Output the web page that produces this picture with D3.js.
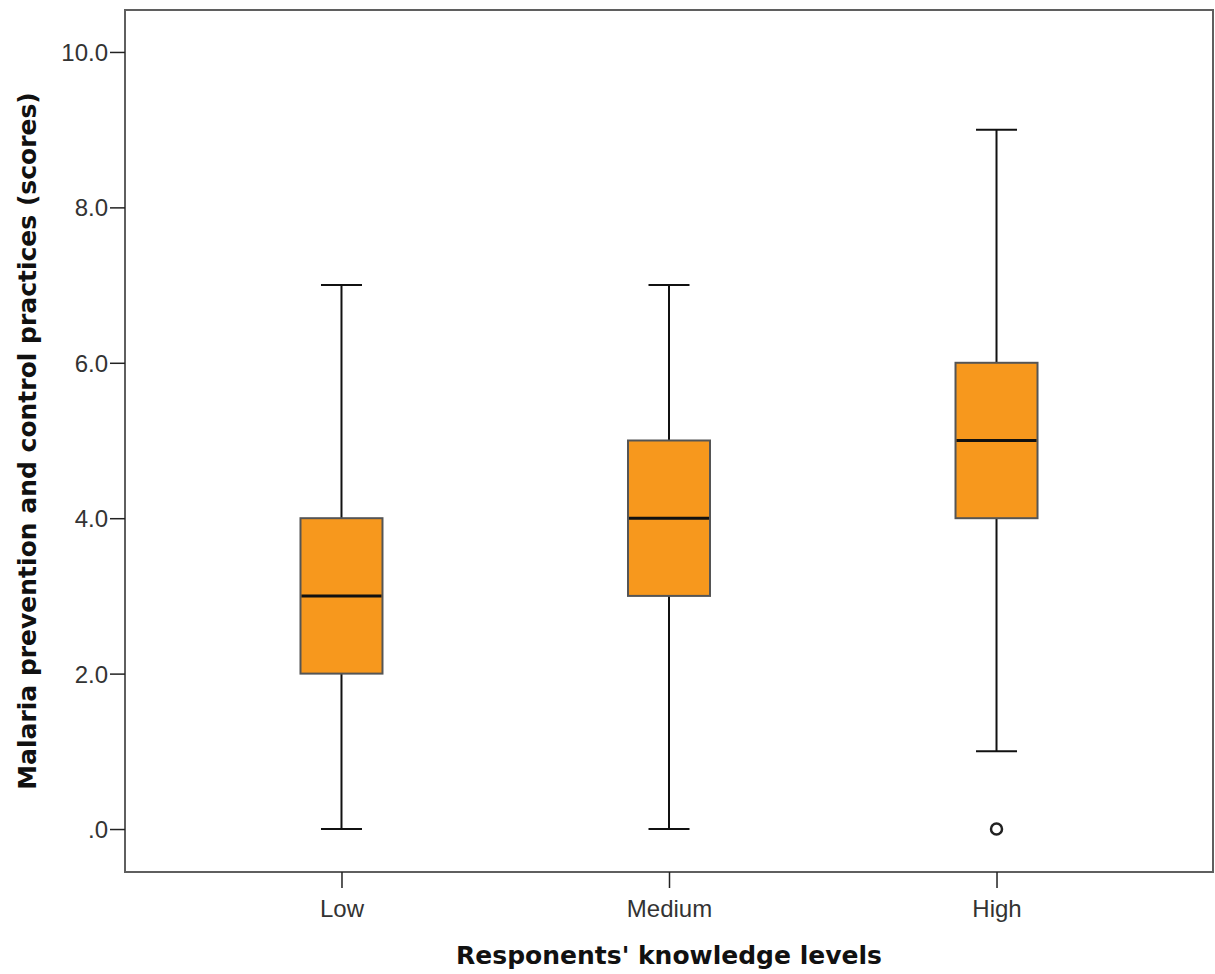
<!DOCTYPE html>
<html>
<head>
<meta charset="utf-8">
<script src="https://cdn.jsdelivr.net/npm/d3@7"></script>
<style>
  body { margin: 0; background: #fff; }
  svg { display: block; }
</style>
</head>
<body>
<div id="chart"></div>
<script>
const categories = ['Low', 'Medium', 'High']
const mins = [0, 0, 1]
const q1s = [2, 3, 4]
const medians = [3, 4, 5]
const q3s = [4, 5, 6]
const maxs = [7, 7, 9]
const outliers = [[], [], [0]]
const yTicks = [0, 2, 4, 6, 8, 10]

const W = 1215, H = 974
const MARGIN = {TOP: 10, LEFT: 125, RIGHT: 2, BOTTOM: 102}
const WIDTH = W - MARGIN.LEFT - MARGIN.RIGHT
const HEIGHT = H - MARGIN.TOP - MARGIN.BOTTOM

const svg = d3.select('#chart').append('svg')
    .attr('width', W).attr('height', H)
const g = svg.append('g')
    .attr('transform', `translate(${MARGIN.LEFT}, ${MARGIN.TOP})`)

const y = d3.scaleLinear().domain([-0.553, 10.54]).range([HEIGHT, 0])
const x = d3.scalePoint().domain(categories).range([0, WIDTH]).padding(0.661)

const boxW = 82, capW = 41
const tickFont = '"Liberation Sans", Arial, sans-serif'
const titleFont = '"DejaVu Sans", Verdana, sans-serif'

// frame
g.append('rect')
    .attr('x', 0).attr('y', 0)
    .attr('width', WIDTH).attr('height', HEIGHT)
    .attr('fill', 'none').attr('stroke', '#5f5f5f').attr('stroke-width', 2)

// y axis
const yAxis = g.append('g')
    .call(d3.axisLeft(y).tickValues(yTicks).tickSize(15).tickPadding(2)
        .tickFormat(d => d === 0 ? '.0' : d3.format('.1f')(d)))
yAxis.select('.domain').remove()
yAxis.selectAll('line').attr('stroke', '#222').attr('stroke-width', 1.5)
yAxis.selectAll('text')
    .attr('font-family', tickFont).attr('font-size', 24)
    .attr('fill', '#333').attr('dy', '0.35em').attr('x', -17)

// x axis
const xAxis = g.append('g')
    .attr('transform', `translate(0, ${HEIGHT})`)
    .call(d3.axisBottom(x).tickSize(16).tickPadding(0))
xAxis.select('.domain').remove()
xAxis.selectAll('line').attr('stroke', '#222').attr('stroke-width', 1.5)
xAxis.selectAll('text')
    .attr('font-family', tickFont).attr('font-size', 24)
    .attr('fill', '#333').attr('dy', null).attr('y', 45)

// boxes
const data = categories.map((c, i) => ({
    cat: c, min: mins[i], q1: q1s[i], med: medians[i], q3: q3s[i], max: maxs[i], out: outliers[i]
}))

const box = g.selectAll('.box').data(data).enter().append('g')
    .attr('class', 'box')
    .attr('transform', d => `translate(${x(d.cat)}, 0)`)

box.append('line')
    .attr('x1', 0).attr('x2', 0)
    .attr('y1', d => y(d.min)).attr('y2', d => y(d.max))
    .attr('stroke', '#111').attr('stroke-width', 2)

box.append('line')
    .attr('x1', -capW / 2).attr('x2', capW / 2)
    .attr('y1', d => y(d.max)).attr('y2', d => y(d.max))
    .attr('stroke', '#111').attr('stroke-width', 2)

box.append('line')
    .attr('x1', -capW / 2).attr('x2', capW / 2)
    .attr('y1', d => y(d.min)).attr('y2', d => y(d.min))
    .attr('stroke', '#111').attr('stroke-width', 2)

box.append('rect')
    .attr('x', -boxW / 2).attr('width', boxW)
    .attr('y', d => y(d.q3)).attr('height', d => y(d.q1) - y(d.q3))
    .attr('fill', '#f7981d').attr('stroke', '#555').attr('stroke-width', 2)

box.append('line')
    .attr('x1', -boxW / 2 + 1).attr('x2', boxW / 2 - 1)
    .attr('y1', d => y(d.med)).attr('y2', d => y(d.med))
    .attr('stroke', '#111').attr('stroke-width', 3)

box.selectAll('circle').data(d => d.out).enter().append('circle')
    .attr('cx', 0).attr('cy', v => y(v)).attr('r', 5.5)
    .attr('fill', '#fff').attr('stroke', '#222').attr('stroke-width', 2.5)

// titles
svg.append('text')
    .attr('x', MARGIN.LEFT + WIDTH / 2).attr('y', 964)
    .attr('text-anchor', 'middle')
    .attr('font-family', titleFont).attr('font-weight', 'bold')
    .attr('font-size', 25).attr('fill', '#111')
    .text("Responents' knowledge levels")

svg.append('text')
    .attr('transform', `translate(36, ${MARGIN.TOP + HEIGHT / 2}) rotate(-90)`)
    .attr('text-anchor', 'middle')
    .attr('font-family', titleFont).attr('font-weight', 'bold')
    .attr('font-size', 25).attr('fill', '#111')
    .text('Malaria prevention and control practices (scores)')
</script>
</body>
</html>
